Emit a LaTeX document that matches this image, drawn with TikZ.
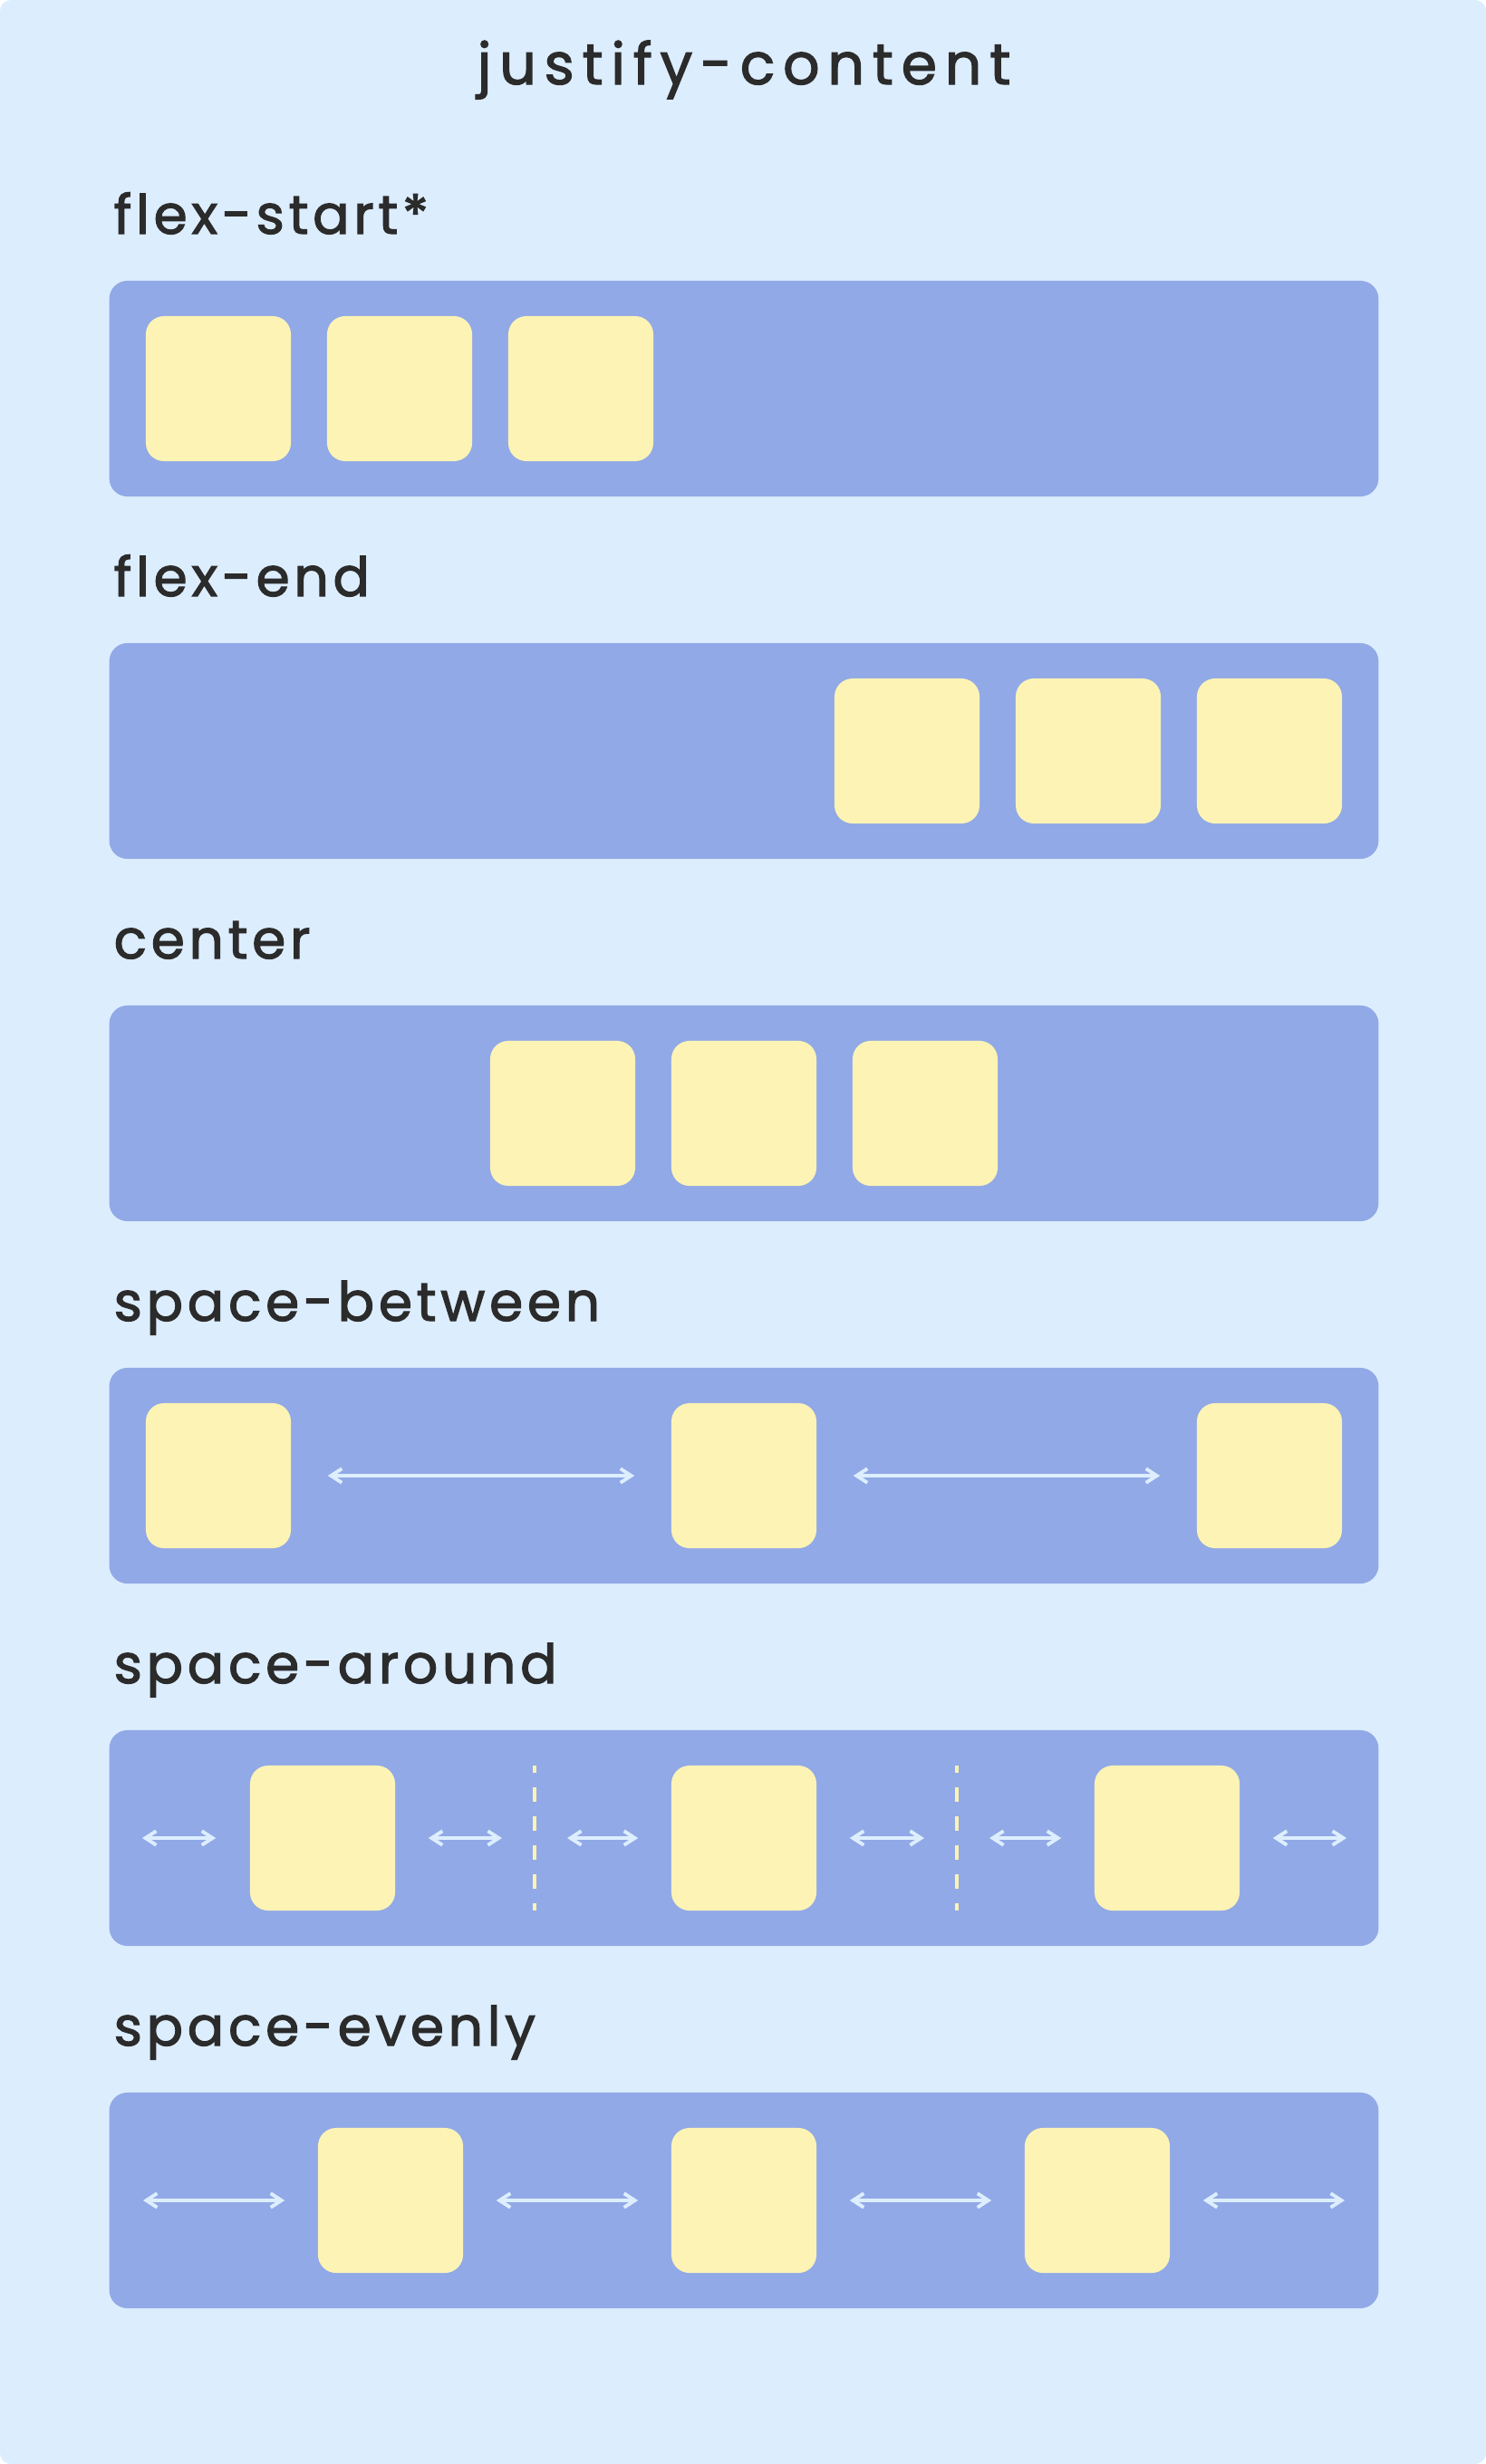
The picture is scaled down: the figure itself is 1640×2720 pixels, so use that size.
\documentclass[tikz,border=0pt]{standalone}
\usepackage{fontspec}
\newfontfamily\handfont{Poppins}[LetterSpace=8, FakeBold=2]
\newfontfamily\titlefont{Poppins}[LetterSpace=14, FakeBold=2]
\usepackage{tikz}
\usetikzlibrary{arrows.meta,positioning}
\usepackage{xcolor}
\definecolor{jcbg}{HTML}{DCEDFE}
\definecolor{jcpanel}{HTML}{91A9E6}
\definecolor{jcitem}{HTML}{FCF3B5}
\definecolor{jcink}{HTML}{2B2B2B}
\definecolor{jcarrow}{HTML}{DDEEFF}
\tikzstyle{panel} = [rectangle, rounded corners=0.2cm, minimum width=14cm, minimum height=2.38cm, inner sep=0pt, fill=jcpanel]
\tikzstyle{itembox} = [rectangle, rounded corners=0.2cm, minimum width=1.6cm, minimum height=1.6cm, inner sep=0pt, fill=jcitem]
\tikzstyle{caption} = [anchor=base west, inner sep=0pt, text=jcink, font=\handfont\fontsize{17}{20}\selectfont]
\tikzstyle{gaparrow} = [line width=1.1pt, color=jcarrow, {Straight Barb[length=3.4pt,width=4.4pt]}-{Straight Barb[length=3.4pt,width=4.4pt]}]
\tikzstyle{midline} = [line width=0.9pt, color=jcitem, dash pattern=on 4.55pt off 4.55pt, dash phase=2.28pt]

\begin{document}
\begin{tikzpicture}[x=0.01cm, y=-0.01cm]
\fill[jcbg, rounded corners=0.12cm] (0,0) rectangle (1640,2720);
\useasboundingbox (0,0) rectangle (1640,2720);

\node[anchor=base, inner sep=0pt, text=jcink, font=\titlefont\fontsize{18}{21}\selectfont] (title) at (821,93) {justify-content};

% flex-start
\node[caption] (l1) at (125,258) {flex-start*};
\node[panel] (p1) at (821,429) {};
\node[itembox] (s1) at (241,429) {};
\node[itembox] (s2) at (441,429) {};
\node[itembox] (s3) at (641,429) {};

% flex-end
\node[caption] (l2) at (125,658) {flex-end};
\node[panel] (p2) at (821,829) {};
\node[itembox] (e1) at (1001,829) {};
\node[itembox] (e2) at (1201,829) {};
\node[itembox] (e3) at (1401,829) {};

% center
\node[caption] (l3) at (125,1058) {center};
\node[panel] (p3) at (821,1229) {};
\node[itembox] (c1) at (621,1229) {};
\node[itembox] (c2) at (821,1229) {};
\node[itembox] (c3) at (1021,1229) {};

% space-between
\node[caption] (l4) at (125,1458) {space-between};
\node[panel] (p4) at (821,1629) {};
\node[itembox] (b1) at (241,1629) {};
\node[itembox] (b2) at (821,1629) {};
\node[itembox] (b3) at (1401,1629) {};
\draw[gaparrow] ([xshift=0.4cm]b1.east) -- ([xshift=-0.4cm]b2.west);
\draw[gaparrow] ([xshift=0.4cm]b2.east) -- ([xshift=-0.4cm]b3.west);

% space-around
\node[caption] (l5) at (125,1858) {space-around};
\node[panel] (p5) at (821,2029) {};
\node[itembox] (a1) at (356,2029) {};
\node[itembox] (a2) at (821,2029) {};
\node[itembox] (a3) at (1288,2029) {};
\coordinate (d1top) at (590,1949);
\coordinate (d1bot) at (590,2109);
\coordinate (d2top) at (1056,1949);
\coordinate (d2bot) at (1056,2109);
\draw[midline] (d1top) -- (d1bot);
\draw[midline] (d2top) -- (d2bot);
\draw[gaparrow] ([xshift=0.37cm]p5.west) -- ([xshift=-0.37cm]a1.west);
\draw[gaparrow] ([xshift=0.36cm]a1.east) -- ([xshift=-0.36cm]d1top |- a1.west);
\draw[gaparrow] ([xshift=0.36cm]d1top |- a2.west) -- ([xshift=-0.36cm]a2.west);
\draw[gaparrow] ([xshift=0.36cm]a2.east) -- ([xshift=-0.36cm]d2top |- a2.east);
\draw[gaparrow] ([xshift=0.36cm]d2top |- a3.west) -- ([xshift=-0.36cm]a3.west);
\draw[gaparrow] ([xshift=0.36cm]a3.east) -- ([xshift=-0.36cm]p5.east);

% space-evenly
\node[caption] (l6) at (125,2258) {space-evenly};
\node[panel] (p6) at (821,2429) {};
\node[itembox] (v1) at (431,2429) {};
\node[itembox] (v2) at (821,2429) {};
\node[itembox] (v3) at (1211,2429) {};
\draw[gaparrow] ([xshift=0.38cm]p6.west) -- ([xshift=-0.36cm]v1.west);
\draw[gaparrow] ([xshift=0.36cm]v1.east) -- ([xshift=-0.36cm]v2.west);
\draw[gaparrow] ([xshift=0.36cm]v2.east) -- ([xshift=-0.36cm]v3.west);
\draw[gaparrow] ([xshift=0.36cm]v3.east) -- ([xshift=-0.38cm]p6.east);
\end{tikzpicture}
\end{document}
